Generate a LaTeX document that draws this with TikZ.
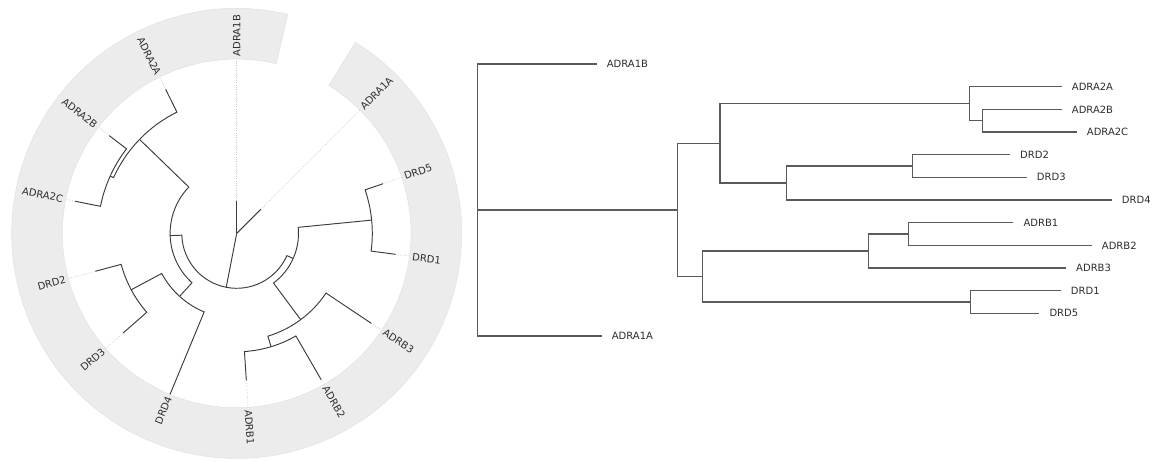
\documentclass[tikz,border=0pt]{standalone}
\usepackage{fontspec}
\setmainfont{DejaVu Sans}
\definecolor{band}{RGB}{236,236,236}
\definecolor{bandedge}{RGB}{226,226,226}
\definecolor{branch}{RGB}{90,90,90}
\definecolor{cbranch}{RGB}{60,60,60}
\definecolor{lbl}{RGB}{45,45,45}
\definecolor{dots}{RGB}{200,200,200}
\tikzset{
  rtree/.style={draw=branch, line width=1.2pt},
  ctree/.style={draw=cbranch, line width=0.95pt},
  guide/.style={draw=dots, line width=0.7pt, dash pattern=on 0.8pt off 1.6pt},
  lblfont/.style={inner sep=0pt, text=lbl, font=\fontsize{10}{12}\selectfont},
  rlabel/.style={lblfont, anchor=west, xshift=10pt},
  clabout/.style={lblfont, anchor=west, rotate=#1},
  clabin/.style={lblfont, anchor=east, rotate=#1-180},
}
\newcommand\circlink[4]{\draw[ctree] (#2:#1pt) arc[start angle=#2, end angle=#3, radius=#1pt] -- (#4);}
\begin{document}
\begin{tikzpicture}[x=1pt,y=1pt]
\useasboundingbox (0,0) rectangle (1159,461);
% ---------------- circular tree ----------------
\begin{scope}[shift={(236.7pt,227.6pt)}]
  \fill[band, draw=bandedge, line width=0.5pt]
    (76.875:225pt) arc[start angle=76.875, end angle=418.125, radius=225pt]
    -- (418.125:174.3pt) arc[start angle=418.125, end angle=76.875, radius=174.3pt] -- cycle;
  % node positions
  \coordinate (c0) at (0,0);
  \coordinate (cN1) at (258.984:54.9pt);
  \coordinate (cN2) at (181.875:66.6pt);
  \coordinate (cN3) at (336.094:61.8pt);
  \coordinate (cN4) at (135.9375:135.2pt);
  \coordinate (cN5) at (227.8125:85.0pt);
  \coordinate (cN6) at (155.625:138.9pt);
  \coordinate (cN7) at (208.125:119.6pt);
  \coordinate (cN8) at (306.5625:107.4pt);
  \coordinate (cN9) at (365.625:135.6pt);
  \coordinate (cN10) at (286.875:118.4pt);
  \coordinate (cADRA1B) at (90:32.7pt);
  \coordinate (cADRA2A) at (116.25:160.6pt);
  \coordinate (cADRA2B) at (142.5:160.6pt);
  \coordinate (cADRA2C) at (168.75:164.7pt);
  \coordinate (cDRD2) at (195:146.4pt);
  \coordinate (cDRD3) at (221.25:151.0pt);
  \coordinate (cDRD4) at (247.5:174.3pt);
  \coordinate (cADRB1) at (273.75:147.3pt);
  \coordinate (cADRB2) at (300:168.9pt);
  \coordinate (cADRB3) at (326.25:161.8pt);
  \coordinate (cDRD1) at (352.5:160.3pt);
  \coordinate (cDRD5) at (378.75:154.4pt);
  \coordinate (cADRA1A) at (405:34.1pt);
  % ring points for guides
  \foreach \nm/\a in {ADRA1B/90, ADRA2A/116.25, ADRA2B/142.5, ADRA2C/168.75, DRD2/195, DRD3/221.25,
                      ADRB1/273.75, ADRB2/300, ADRB3/326.25, DRD1/352.5, DRD5/378.75, ADRA1A/405}
    {\coordinate (g\nm) at (\a:174.3pt);
     \draw[guide] (c\nm) -- (g\nm);}
  % branches
  \draw[ctree] (c0) -- (cADRA1B);
  \draw[ctree] (c0) -- (cADRA1A);
  \draw[ctree] (c0) -- (cN1);
  \circlink{54.9}{258.984}{181.875}{cN2}
  \circlink{54.9}{258.984}{336.094}{cN3}
  \circlink{66.6}{181.875}{135.9375}{cN4}
  \circlink{66.6}{181.875}{227.8125}{cN5}
  \circlink{135.2}{135.9375}{116.25}{cADRA2A}
  \circlink{135.2}{135.9375}{155.625}{cN6}
  \circlink{138.9}{155.625}{142.5}{cADRA2B}
  \circlink{138.9}{155.625}{168.75}{cADRA2C}
  \circlink{85.0}{227.8125}{208.125}{cN7}
  \circlink{85.0}{227.8125}{247.5}{cDRD4}
  \circlink{119.6}{208.125}{195}{cDRD2}
  \circlink{119.6}{208.125}{221.25}{cDRD3}
  \circlink{61.8}{336.094}{306.5625}{cN8}
  \circlink{61.8}{336.094}{365.625}{cN9}
  \circlink{107.4}{306.5625}{286.875}{cN10}
  \circlink{107.4}{306.5625}{326.25}{cADRB3}
  \circlink{118.4}{286.875}{273.75}{cADRB1}
  \circlink{118.4}{286.875}{300}{cADRB2}
  \circlink{135.6}{365.625}{352.5}{cDRD1}
  \circlink{135.6}{365.625}{378.75}{cDRD5}
  % labels
  \node[clabout=90] (lADRA1B) at (90:177pt) {ADRA1B};
  \node[clabin=116.25] (lADRA2A) at (116.25:177pt) {ADRA2A};
  \node[clabin=142.5] (lADRA2B) at (142.5:177pt) {ADRA2B};
  \node[clabin=168.75] (lADRA2C) at (168.75:177pt) {ADRA2C};
  \node[clabin=195] (lDRD2) at (195:177pt) {DRD2};
  \node[clabin=221.25] (lDRD3) at (221.25:177pt) {DRD3};
  \node[clabin=247.5] (lDRD4) at (247.5:177pt) {DRD4};
  \node[clabout=273.75] (lADRB1) at (273.75:177pt) {ADRB1};
  \node[clabout=300] (lADRB2) at (300:177pt) {ADRB2};
  \node[clabout=326.25] (lADRB3) at (326.25:177pt) {ADRB3};
  \node[clabout=352.5] (lDRD1) at (352.5:177pt) {DRD1};
  \node[clabout=18.75] (lDRD5) at (18.75:177pt) {DRD5};
  \node[clabout=45] (lADRA1A) at (45:177pt) {ADRA1A};
\end{scope}
% ---------------- rectangular tree ----------------
\coordinate (rR) at (477.7,251.08);
\coordinate (rN1) at (677.3,251.08);
\coordinate (rN2) at (720,317.67);
\coordinate (rN3) at (702.3,184.5);
\coordinate (rN4) at (969.3,357.33);
\coordinate (rN5) at (786.7,278.0);
\coordinate (rN6) at (982.7,340.33);
\coordinate (rN7) at (912.7,295.0);
\coordinate (rN8) at (868.3,210.0);
\coordinate (rN9) at (970.7,159.0);
\coordinate (rN10) at (908.3,227.0);
\coordinate (rADRA1B) at (596.7,397);
\coordinate (rADRA2A) at (1061.7,374.33);
\coordinate (rADRA2B) at (1061.7,351.67);
\coordinate (rADRA2C) at (1076.7,329.0);
\coordinate (rDRD2) at (1010,306.33);
\coordinate (rDRD3) at (1026.7,283.67);
\coordinate (rDRD4) at (1111.7,261.0);
\coordinate (rADRB1) at (1013.3,238.33);
\coordinate (rADRB2) at (1091.7,215.67);
\coordinate (rADRB3) at (1066,193.0);
\coordinate (rDRD1) at (1060.7,170.33);
\coordinate (rDRD5) at (1039.3,147.67);
\coordinate (rADRA1A) at (601.7,125.0);
\foreach \p/\c in {rR/rADRA1B, rR/rN1, rR/rADRA1A,
                   rN1/rN2, rN1/rN3,
                   rN2/rN4, rN2/rN5,
                   rN4/rADRA2A, rN4/rN6,
                   rN6/rADRA2B, rN6/rADRA2C,
                   rN5/rN7, rN5/rDRD4,
                   rN7/rDRD2, rN7/rDRD3,
                   rN3/rN8, rN3/rN9,
                   rN8/rN10, rN8/rADRB3,
                   rN10/rADRB1, rN10/rADRB2,
                   rN9/rDRD1, rN9/rDRD5}
  {\draw[rtree] (\p) |- (\c);}
\foreach \nm in {ADRA1B, ADRA2A, ADRA2B, ADRA2C, DRD2, DRD3, DRD4, ADRB1, ADRB2, ADRB3, DRD1, DRD5, ADRA1A}
  {\node[rlabel] (t\nm) at (r\nm) {\nm};}
\end{tikzpicture}
\end{document}
